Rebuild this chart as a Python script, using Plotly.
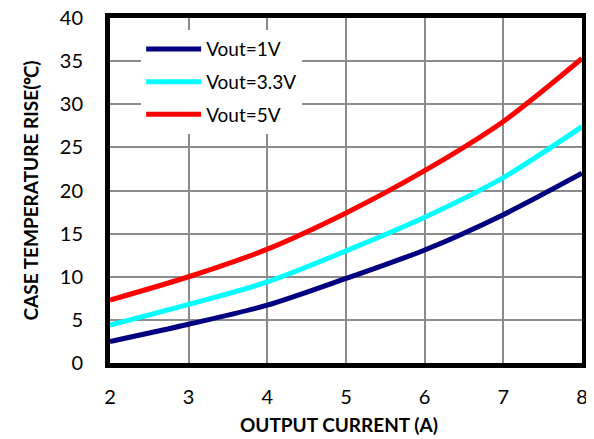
import plotly.graph_objects as go

current = [2, 3, 4, 5, 6, 7, 8]
rise_1v = [2.5, 4.5, 6.7, 9.8, 13.1, 17.2, 22.0]
rise_3v3 = [4.4, 6.8, 9.4, 13.0, 16.9, 21.5, 27.4]
rise_5v = [7.3, 10.0, 13.2, 17.4, 22.3, 28.0, 35.3]

series_names = ["Vout=1V", "Vout=3.3V", "Vout=5V"]
series_colors = ["#000080", "#00FFFF", "#FF0000"]
series_values = [rise_1v, rise_3v3, rise_5v]

x_ticks = [2, 3, 4, 5, 6, 7, 8]
y_ticks = [0, 5, 10, 15, 20, 25, 30, 35, 40]

fig = go.Figure()
for i, (name, color, vals) in enumerate(zip(series_names, series_colors, series_values)):
    fig.add_trace(go.Scatter(
        x=current, y=vals, name=name, mode="lines",
        line=dict(color=color, width=5, shape="spline", smoothing=0.8),
        legendgroup=str(i),
    ))

font_family = "Lato, Open Sans, Liberation Sans, sans-serif"

# page body has an 8px margin, so the figure is 8px smaller and shifted
fig.update_layout(
    width=586, height=431,
    margin=dict(l=102, r=12, t=10, b=76, autoexpand=False),
    paper_bgcolor="white", plot_bgcolor="white",
    font=dict(family=font_family, color="black", size=20),
    showlegend=True,
    legend=dict(
        x=0.066, y=0.965, xanchor="left", yanchor="top",
        bgcolor="white", borderwidth=0,
        font=dict(size=19, family=font_family),
        tracegroupgap=5,
        itemwidth=55,
    ),
    xaxis=dict(
        range=[2, 8], tickvals=x_ticks, ticktext=[str(v) for v in x_ticks],
        showgrid=True, gridcolor="#8c8c8c", gridwidth=1.5,
        showline=True, linecolor="black", linewidth=5, mirror=True,
        ticks="", ticklabelstandoff=12, zeroline=False, automargin=False,
        tickfont=dict(size=20), ticklabeloverflow="allow",
    ),
    yaxis=dict(
        range=[0, 40], tickvals=y_ticks, ticktext=[str(v) for v in y_ticks],
        showgrid=True, gridcolor="#8c8c8c", gridwidth=1.5,
        showline=True, linecolor="black", linewidth=5, mirror=True,
        ticks="", ticklabelstandoff=18, zeroline=False, automargin=False,
        tickfont=dict(size=20), ticklabeloverflow="allow",
    ),
    annotations=[
        dict(text="<b>OUTPUT CURRENT (A)</b>", xref="paper", yref="paper",
             x=0.485, y=0, yshift=-61, xanchor="center", yanchor="middle",
             showarrow=False, font=dict(size=19)),
        dict(text="<b>CASE TEMPERATURE RISE(℃)</b>", xref="paper", yref="paper",
             x=0, xshift=-80, y=0.5, xanchor="center", yanchor="middle",
             textangle=-90, showarrow=False, font=dict(size=19)),
    ],
)

fig.write_html("out.html")
